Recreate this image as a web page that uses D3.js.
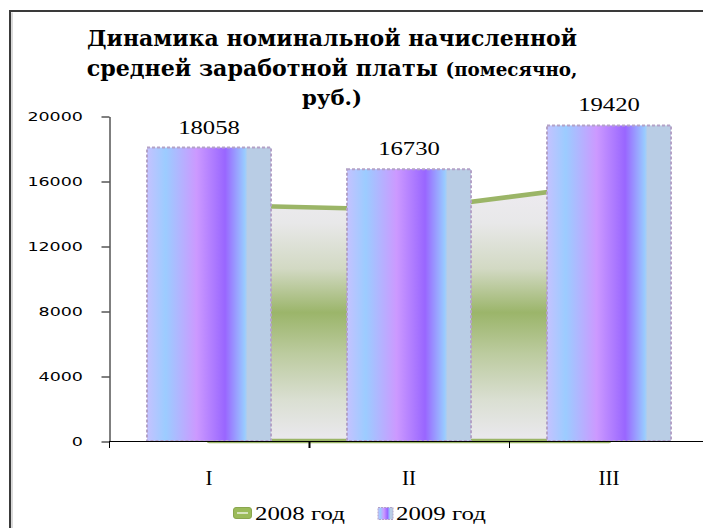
<!DOCTYPE html>
<html><head><meta charset="utf-8">
<script src="https://cdn.jsdelivr.net/npm/d3@7"></script>
<style>
body{margin:0;background:#fff}svg{display:block}
.serif{font-family:"Liberation Serif","Times New Roman",Times,serif}
.tserif{font-family:"DejaVu Serif",serif}
.sans{font-family:"DejaVu Sans",Verdana,sans-serif}
</style>
</head><body>
<script>
// ---- data ----
const categories = ["I", "II", "III"];
const values2008 = [14530, 14230, 15800];
const values2009 = [18058, 16730, 19420];
const yTickValues = [0, 4000, 8000, 12000, 16000, 20000];
const seriesNames = ["2008 год", "2009 год"];
const titleLine1 = "Динамика номинальной начисленной";
const titleLine2a = "средней заработной платы ";
const titleLine2b = "(помесячно,";
const titleLine3 = "руб.)";

// ---- setup ----
const W = 703, H = 528;
const svg = d3.select("body").append("svg").attr("width", W).attr("height", H);
const defs = svg.append("defs");

const x = d3.scaleBand().domain(categories).range([109, 709]).paddingInner(0.38).paddingOuter(0.19);
const y = d3.scaleLinear().domain([0, 20000]).range([441, 116]);

function sText(parent, px, py, k, cls) {
  return parent.append("text").attr("class", cls)
    .attr("transform", `translate(${px},${py}) scale(${k},1)`);
}
function fitWidth(sel, px, py, w) {
  const n = sel.node().getComputedTextLength();
  sel.attr("transform", `translate(${px},${py}) scale(${w / n},1)`);
}

// gradients
const bg = defs.append("linearGradient").attr("id", "barGrad").attr("x1", 0).attr("x2", 1).attr("y1", 0).attr("y2", 0);
[[0, "#c4c2ff"], [0.15, "#9cccff"], [0.40, "#cc99ff"], [0.63, "#9966ff"], [0.79, "#99ccff"], [0.81, "#b9cde5"], [1, "#b9cde5"]]
  .forEach(([o, c]) => bg.append("stop").attr("offset", o).attr("stop-color", c));

const ag = defs.append("linearGradient").attr("id", "areaGrad").attr("x1", 0).attr("x2", 0).attr("y1", 0).attr("y2", 1);
[[0, "#eeebf1"], [0.15, "#e8e8e9"], [0.33, "#d2d9c3"], [0.5, "#9bb56a"], [0.66, "#bccb9f"], [0.84, "#dadfd2"], [1, "#ebe9ef"]]
  .forEach(([o, c]) => ag.append("stop").attr("offset", o).attr("stop-color", c));

// frame
svg.append("path").attr("d", `M10,${H} V11 H${W}`).attr("fill", "none").attr("stroke", "#3a3a3a").attr("stroke-width", 2);
svg.append("path").attr("d", `M12,${H} V12.5`).attr("fill", "none").attr("stroke", "#b5b5b5").attr("stroke-width", 1);

// title
const t1 = sText(svg, 332, 46, 1, "tserif").attr("text-anchor", "middle")
  .attr("font-weight", "bold").attr("font-size", 23).text(titleLine1);
fitWidth(t1, 332, 46, 490);
const t2 = sText(svg, 332, 76, 1, "tserif").attr("text-anchor", "middle")
  .attr("font-weight", "bold").attr("font-size", 23);
t2.append("tspan").text(titleLine2a);
t2.append("tspan").attr("font-size", 19).text(titleLine2b);
fitWidth(t2, 332, 76, 491);
const t3 = sText(svg, 332, 105, 1, "tserif").attr("text-anchor", "middle")
  .attr("font-weight", "bold").attr("font-size", 20).text(titleLine3);
fitWidth(t3, 332, 105, 60);

// 2008 area
const cx = c => x(c) + x.bandwidth() / 2;
const area = d3.area().x((d, i) => cx(categories[i])).y0(y(0)).y1(d => y(d));
svg.append("path").datum(values2008).attr("d", area)
  .attr("fill", "url(#areaGrad)").attr("stroke", "#9bb567").attr("stroke-width", 4.5).attr("stroke-linejoin", "round");

// 2009 bars
svg.selectAll("rect.bar").data(values2009).enter().append("rect").attr("class", "bar")
  .attr("x", (d, i) => x(categories[i])).attr("width", x.bandwidth())
  .attr("y", d => y(d)).attr("height", d => y(0) - y(d))
  .attr("fill", "url(#barGrad)").attr("stroke", "#b3a2c7").attr("stroke-width", 2).attr("stroke-dasharray", "3 2");

// data labels
values2009.forEach((v, i) => {
  sText(svg, cx(categories[i]), y(v) - 14, 1.3, "serif").attr("text-anchor", "middle")
    .attr("font-size", 19).attr("fill", "#000").text(v);
});

// y axis
const yAxis = svg.append("g").attr("transform", "translate(109.5,0.5)")
  .call(d3.axisLeft(y).tickValues(yTickValues).tickSize(8).tickSizeOuter(0).tickFormat(() => ""));
yAxis.select(".domain").attr("stroke", "#000");
yAxis.selectAll(".tick line").attr("stroke", "#000");
yTickValues.forEach(v => {
  sText(svg, 83, y(v) + 5, 1.4, "sans").attr("text-anchor", "end")
    .attr("font-size", 12.5).attr("fill", "#000").text(d3.format("d")(v));
});

// x axis
svg.append("line").attr("x1", 109).attr("x2", W).attr("y1", y(0) + 0.5).attr("y2", y(0) + 0.5).attr("stroke", "#000");
const bounds = d3.range(categories.length + 1).map(i => x.range()[0] + i * x.step());
svg.selectAll("line.xt").data(bounds).enter().append("line").attr("class", "xt")
  .attr("x1", d => d + 0.5).attr("x2", d => d + 0.5).attr("y1", y(0)).attr("y2", y(0) + 7)
  .attr("stroke", "#000").attr("stroke-width", (d, i) => i === 1 ? 2 : 1);
categories.forEach(c => {
  sText(svg, cx(c), 485, 1, "serif").attr("text-anchor", "middle")
    .attr("font-size", 21).attr("fill", "#000").text(c);
});

// legend
const lg = svg.append("g");
lg.append("rect").attr("x", 233.5).attr("y", 507.5).attr("width", 18).attr("height", 11).attr("rx", 2.5)
  .attr("fill", "#9bbb59").attr("stroke", "#8aa64f").attr("stroke-width", 1);
lg.append("rect").attr("x", 237).attr("y", 512).attr("width", 11).attr("height", 2).attr("fill", "#d7e4bd");
lg.append("rect").attr("x", 378).attr("y", 507.5).attr("width", 15).attr("height", 12).attr("fill", "url(#barGrad)")
  .attr("stroke", "#b3a2c7").attr("stroke-width", 1).attr("stroke-dasharray", "2 1");
seriesNames.forEach((s, i) => {
  sText(lg, i === 0 ? 255 : 396, 520, 1.38, "serif").attr("font-size", 18).attr("fill", "#000").text(s);
});
</script>
</body></html>
